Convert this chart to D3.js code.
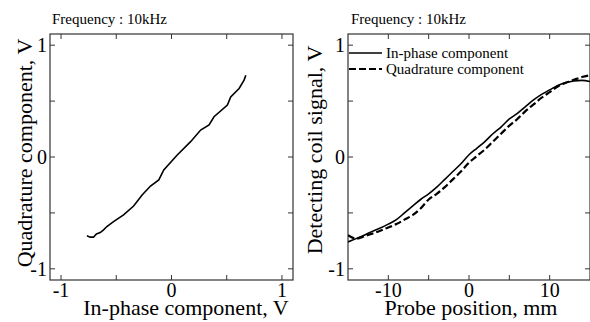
<!DOCTYPE html>
<html>
<head>
<meta charset="utf-8">
<script src="https://cdn.jsdelivr.net/npm/d3@7"></script>
<style>
  body { margin: 0; background: #fff; }
  svg text { font-family: "Liberation Serif", "Times New Roman", serif; fill: #000; }
</style>
</head>
<body>
<script>
// size of the page
var w = 590;
var h = 322;

// left plot: in-phase vs quadrature (V)
var lissX = [-0.766, -0.736, -0.706, -0.68, -0.645, -0.615, -0.585, -0.525, -0.434, -0.343,
             -0.266, -0.19, -0.115, -0.07, 0.052, 0.173, 0.264, 0.34, 0.385, 0.506,
             0.536, 0.612, 0.657, 0.673];
var lissY = [-0.705, -0.717, -0.717, -0.688, -0.676, -0.652, -0.622, -0.578, -0.518, -0.438,
             -0.339, -0.26, -0.205, -0.116, 0.018, 0.137, 0.241, 0.286, 0.36, 0.464,
             0.538, 0.613, 0.6875, 0.732];

// right plot: signal vs probe position
var positions = d3.range(-15, 16); // -15 .. 15 mm
var inPhase = [-0.76, -0.73, -0.70, -0.665, -0.635, -0.60, -0.56, -0.50, -0.44, -0.38,
               -0.33, -0.27, -0.20, -0.13, -0.06, 0.02, 0.08, 0.14, 0.21, 0.27,
               0.34, 0.39, 0.45, 0.51, 0.56, 0.60, 0.64, 0.665, 0.68, 0.685, 0.675];
var quadrature = [-0.70, -0.73, -0.71, -0.685, -0.66, -0.63, -0.60, -0.56, -0.52, -0.46,
                  -0.38, -0.33, -0.27, -0.20, -0.13, -0.05, 0.01, 0.07, 0.14, 0.21,
                  0.28, 0.34, 0.41, 0.47, 0.53, 0.58, 0.63, 0.665, 0.69, 0.715, 0.73];

var vTicks = [-1, -0.5, 0, 0.5, 1];
var vLabels = [-1, 0, 1];
var posTicks = [-10, -5, 0, 5, 10];
var posLabels = [-10, 0, 10];

var svg = d3.select("body").append("svg")
    .attr("width", w)
    .attr("height", h);

// scales
var yScale = d3.scaleLinear().domain([-1.1, 1.1]).range([280, 34]);
var xLeft = d3.scaleLinear().domain([-1.1, 1.1]).range([50, 293]);
var xRight = d3.scaleLinear().domain([-15, 15]).range([348, 590]);

// draws a box with inward ticks on all four sides
function frame(g, x, y, xt, xl, yt, yl) {
  var x0 = x.range()[0], x1 = x.range()[1], y0 = y.range()[1], y1 = y.range()[0];
  var tl = 5;
  g.append("rect")
    .attr("x", x0).attr("y", y0)
    .attr("width", x1 - x0).attr("height", y1 - y0)
    .attr("fill", "none").attr("stroke", "#333").attr("stroke-width", 1.2);

  xt.forEach(function(t) {
    g.append("line").attr("x1", x(t)).attr("x2", x(t)).attr("y1", y1).attr("y2", y1 - tl).attr("stroke", "#333");
    g.append("line").attr("x1", x(t)).attr("x2", x(t)).attr("y1", y0).attr("y2", y0 + tl).attr("stroke", "#333");
  });
  yt.forEach(function(t) {
    g.append("line").attr("y1", y(t)).attr("y2", y(t)).attr("x1", x0).attr("x2", x0 + tl).attr("stroke", "#333");
    g.append("line").attr("y1", y(t)).attr("y2", y(t)).attr("x1", x1).attr("x2", x1 - tl).attr("stroke", "#333");
  });

  g.selectAll(".xl").data(xl).enter().append("text")
    .attr("x", function(d) { return x(d); })
    .attr("y", y1 + 17)
    .attr("text-anchor", "middle")
    .attr("font-size", "20px")
    .text(function(d) { return d; });

  g.selectAll(".yl").data(yl).enter().append("text")
    .attr("x", x0 - 3)
    .attr("y", function(d) { return y(d); })
    .attr("dy", "0.34em")
    .attr("text-anchor", "end")
    .attr("font-size", "20px")
    .text(function(d) { return d; });
}

// ---------- left plot
var left = svg.append("g");
frame(left, xLeft, yScale, vTicks, vLabels, vTicks, vLabels);

var lissLine = d3.line()
    .x(function(d, i) { return xLeft(lissX[i]); })
    .y(function(d, i) { return yScale(lissY[i]); });

left.append("path")
    .datum(lissX)
    .attr("d", lissLine)
    .attr("fill", "none")
    .attr("stroke", "#000")
    .attr("stroke-width", 1.6);

left.append("text").attr("x", 52).attr("y", 24).attr("font-size", "15px").text("Frequency : 10kHz");
left.append("text").attr("x", 186).attr("y", 315).attr("text-anchor", "middle")
    .attr("font-size", "22px").text("In-phase component, V");
left.append("text")
    .attr("transform", "translate(32,153) rotate(-90)")
    .attr("text-anchor", "middle")
    .attr("font-size", "22px")
    .text("Quadrature component, V");

// ---------- right plot
var right = svg.append("g");
frame(right, xRight, yScale, posTicks, posLabels, vTicks, vLabels);

svg.append("clipPath").attr("id", "clipR")
  .append("rect").attr("x", 348).attr("y", 34).attr("width", 242).attr("height", 246);

function sigLine(vals) {
  return d3.line()
    .x(function(d, i) { return xRight(positions[i]); })
    .y(function(d, i) { return yScale(vals[i]); })
    .curve(d3.curveMonotoneX);
}

right.append("path")
    .datum(inPhase)
    .attr("d", sigLine(inPhase))
    .attr("clip-path", "url(#clipR)")
    .attr("fill", "none")
    .attr("stroke", "#000")
    .attr("stroke-width", 1.6);

right.append("path")
    .datum(quadrature)
    .attr("d", sigLine(quadrature))
    .attr("clip-path", "url(#clipR)")
    .attr("fill", "none")
    .attr("stroke", "#000")
    .attr("stroke-width", 2.2)
    .attr("stroke-dasharray", "7,3");

// legend
var legend = right.append("g");
legend.append("line").attr("x1", 349).attr("x2", 382).attr("y1", 53).attr("y2", 53)
    .attr("stroke", "#000").attr("stroke-width", 1.6);
legend.append("text").attr("x", 386).attr("y", 58).attr("font-size", "15px").text("In-phase component");
legend.append("line").attr("x1", 349).attr("x2", 382).attr("y1", 69).attr("y2", 69)
    .attr("stroke", "#000").attr("stroke-width", 2.2).attr("stroke-dasharray", "7,3");
legend.append("text").attr("x", 386).attr("y", 74).attr("font-size", "15px").text("Quadrature component");

right.append("text").attr("x", 351).attr("y", 24).attr("font-size", "15px").text("Frequency : 10kHz");
right.append("text").attr("x", 471).attr("y", 315).attr("text-anchor", "middle")
    .attr("font-size", "22px").text("Probe position, mm");
right.append("text")
    .attr("transform", "translate(322,150) rotate(-90)")
    .attr("text-anchor", "middle")
    .attr("font-size", "22px")
    .text("Detecting coil signal, V");
</script>
</body>
</html>
